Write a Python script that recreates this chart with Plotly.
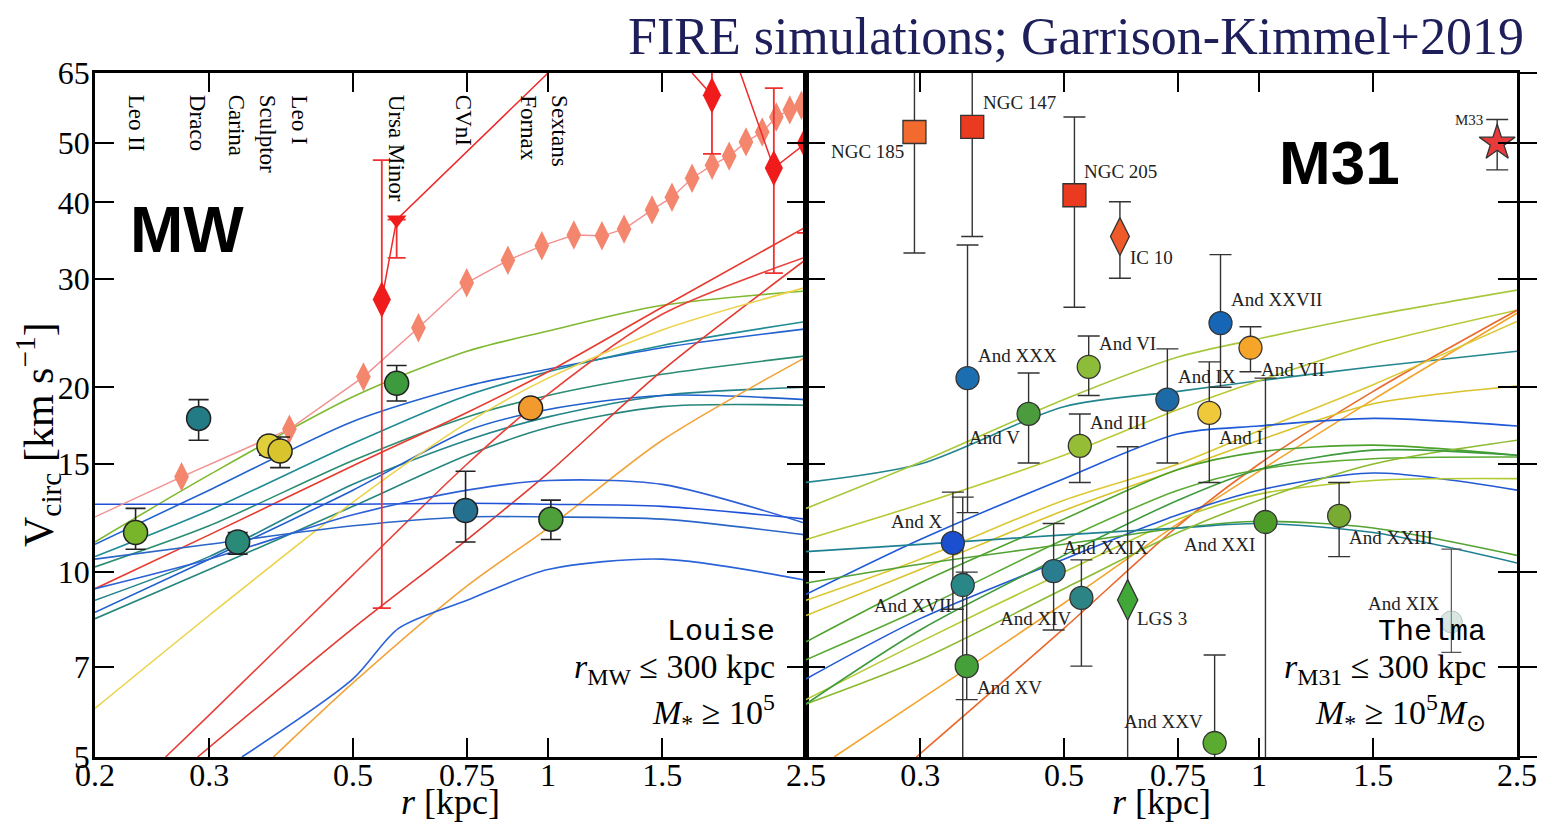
import numpy as np
import plotly.graph_objects as go

# ---------------- data ----------------
R_GRID = [0.2, 0.3, 0.5, 0.75, 1.0, 1.5, 2.5]
X_TICKS = [0.2, 0.3, 0.5, 0.75, 1.0, 1.5, 2.5]
X_TICKTEXT = ["0.2", "0.3", "0.5", "0.75", "1", "1.5", "2.5"]
Y_TICKS = [5, 7, 10, 15, 20, 30, 40, 50, 65]
Y_TICKTEXT = ["5", "7", "10", "15", "20", "30", "40", "50", "65"]

# Milky-Way-like host ("Louise") simulated satellite curves
MW_SIM_COLORS = ["#7fb930", "#2262cf", "#1e8a94", "#2a8c72", "#23848a", "#1e5fcc", "#26867c",
                 "#e83a2e", "#e8403a", "#e23a30", "#ecd24a", "#f2a43a", "#2a62d8", "#2050d8",
                 "#2d5fd6", "#2a66c8"]
MW_SIM_R = [R_GRID, R_GRID, R_GRID, R_GRID, R_GRID, R_GRID, R_GRID, R_GRID,
            [0.257, 0.3, 0.5, 0.75, 1.0, 1.5, 2.5],
            [0.288, 0.5, 0.75, 1.0, 1.5, 2.5],
            R_GRID,
            [0.377, 0.5, 0.75, 1.0, 1.5, 2.5],
            [0.337, 0.5, 0.588, 0.75, 1.0, 1.5, 2.5],
            R_GRID, R_GRID, R_GRID]
MW_SIM_V = [[11.2, 14.4, 19.3, 22.9, 24.7, 27.2, 28.7],
            [11.1, 13.6, 17.6, 20.1, 21.4, 23.2, 24.9],
            [10.6, 12.6, 16.2, 19.4, 21.2, 23.4, 25.6],
            [10.2, 11.9, 15.2, 17.9, 19.4, 21.0, 22.5],
            [9.0, 10.6, 13.9, 16.4, 17.9, 19.4, 20.0],
            [8.6, 10.5, 13.6, 17.0, 18.4, 19.4, 19.1],
            [8.4, 10.1, 12.8, 15.5, 17.2, 18.6, 18.7],
            [9.4, 11.5, 14.9, 18.2, 21.2, 27.0, 36.5],
            [5.0, 5.85, 9.9, 15.0, 19.5, 26.3, 32.6],
            [5.0, 8.1, 11.3, 14.5, 21.3, 32.3],
            [6.0, 8.5, 13.0, 17.5, 20.7, 24.8, 29.1],
            [5.0, 6.6, 9.5, 11.8, 16.4, 22.4],
            [5.0, 6.7, 8.1, 9.0, 10.1, 10.5, 9.7],
            [12.9, 12.9, 12.9, 12.95, 12.9, 12.8, 12.2],
            [9.4, 10.5, 12.4, 13.6, 14.1, 13.9, 12.0],
            [10.5, 11.1, 11.9, 12.3, 12.3, 12.2, 11.5]]

# M31-like host ("Thelma") simulated satellite curves
M31_SIM_COLORS = ["#23868f", "#a8c83c", "#b9c935", "#f3a42c", "#e96a2c", "#dcc834", "#d9c22a",
                  "#1e5ad8", "#4ca22c", "#5aaa34", "#2258d2", "#b3ca32", "#52a232", "#1f8092",
                  "#8cba30", "#3d9a3d"]
M31_SIM_R = [R_GRID, R_GRID, R_GRID,
             [0.221, 0.3, 0.5, 0.75, 1.0, 1.5, 2.5],
             [0.296, 0.5, 0.75, 1.0, 1.5, 2.5],
             R_GRID, R_GRID, R_GRID, R_GRID, R_GRID, R_GRID, R_GRID, R_GRID, R_GRID, R_GRID, R_GRID]
M31_SIM_V = [[14.0, 15.0, 18.6, 19.7, 20.5, 21.6, 22.9],
             [12.7, 15.1, 19.1, 22.4, 24.0, 26.2, 28.8],
             [11.3, 12.9, 15.5, 18.4, 20.5, 23.5, 26.7],
             [5.0, 6.2, 8.9, 12.0, 14.6, 19.1, 26.4],
             [5.0, 8.1, 11.9, 15.0, 19.7, 26.7],
             [9.0, 10.5, 13.1, 15.0, 17.0, 20.2, 25.6],
             [8.5, 10.1, 12.6, 14.7, 16.4, 18.8, 20.1],
             [9.2, 11.3, 14.2, 16.8, 17.3, 17.8, 17.3],
             [7.7, 9.6, 12.2, 14.7, 15.7, 16.1, 15.5],
             [7.2, 8.7, 11.3, 13.6, 14.7, 15.3, 15.4],
             [6.7, 8.4, 10.5, 12.4, 13.6, 14.5, 13.6],
             [6.2, 7.7, 10.0, 12.2, 13.4, 14.1, 14.2],
             [9.6, 10.3, 11.1, 11.8, 12.1, 11.8, 10.65],
             [10.8, 11.1, 11.5, 11.8, 12.0, 11.6, 10.35],
             [6.1, 7.2, 9.4, 11.6, 13.1, 15.0, 16.4],
             [6.1, 8.05, 10.65, 13.1, 14.7, 15.8, 15.5]]

# MW observed dwarfs
MW_NAMES = ["Leo II", "Draco", "Carina", "Sculptor", "Leo I", "Ursa Minor", "CVnI", "Fornax", "Sextans"]
MW_R = [0.231, 0.289, 0.332, 0.371, 0.386, 0.584, 0.746, 0.940, 1.010]
MW_V = [11.6, 17.8, 11.2, 16.05, 15.75, 20.3, 12.6, 18.5, 12.2]
MW_VLO = [10.9, 16.4, 10.7, 15.5, 14.8, 19.0, 11.2, 18.2, 11.3]
MW_VHI = [12.7, 19.1, 11.6, 16.5, 16.6, 21.7, 14.6, 18.8, 13.1]
MW_COLORS = ["#79b52a", "#237c85", "#2a8a78", "#e0cf3a", "#d8c52e", "#3d9a3d", "#24708e", "#f29a2e", "#4ea03a"]
MW_LABEL_R = [0.232, 0.2885, 0.331, 0.370, 0.413, 0.584, 0.741, 0.934, 1.043]

# red points (MW panel)
RED_R = [0.554, 0.584, 1.79, 2.23, 2.5]
RED_V = [27.8, 37.5, 59.8, 45.5, 50.0]
RED_VLO = [8.74, 32.5, 48.0, 30.7, 35.7]
RED_VHI = [46.9, 37.5, 75.0, 61.4, 50.0]
RED_SYMBOLS = ["diamond-tall", "triangle-down", "diamond-tall", "diamond-tall", "diamond-tall"]
RED_SIZES = [26, 17, 26, 26, 26]
RED_LINE_R = [0.554, 0.584, 1.0, None, 1.668, 1.79, None, 1.98, 2.23, 2.5]
RED_LINE_V = [27.8, 37.5, 65.0, None, 65.0, 59.8, None, 65.0, 45.5, 50.0]

# pink diamond profile
PINK_R = [0.272, 0.399, 0.519, 0.631, 0.749, 0.867, 0.978, 1.096, 1.211, 1.310,
          1.447, 1.553, 1.668, 1.791, 1.903, 2.02, 2.14, 2.25, 2.36, 2.46]
PINK_V = [14.3, 17.1, 20.8, 25.0, 29.6, 32.2, 34.0, 35.4, 35.3, 36.2,
          38.9, 40.8, 43.8, 46.0, 47.6, 50.2, 52.1, 55.1, 56.6, 57.6]
PINK_LEFT_R = 0.2
PINK_LEFT_V = 12.3

# M31 observed dwarfs (circles)
M31_NAMES = ["And XXX", "And V", "And VI", "And III", "And IX", "And XXVII", "And I", "And VII",
             "And XXI", "And XXIII", "And X", "And XVII", "And XV", "And XXIX", "And XIV", "And XXV"]
M31_R = [0.355, 0.441, 0.546, 0.529, 0.722, 0.872, 0.838, 0.970, 1.023, 1.329, 0.337, 0.349,
         0.354, 0.482, 0.532, 0.854]
M31_V = [20.7, 18.1, 21.6, 16.06, 19.1, 25.45, 18.17, 23.2, 12.07, 12.35, 11.16, 9.53,
         7.03, 10.04, 9.08, 5.27]
M31_VLO = [12.5, 15.06, 19.4, 14.0, 15.06, 20.0, 14.0, 21.2, 4.0, 10.6, 8.7, 4.0, 6.2, 8.05, 7.03, 4.0]
M31_VHI = [34.1, 21.1, 24.25, 18.1, 23.1, 32.9, 22.0, 25.1, 20.7, 14.0, 13.5, 13.25, 10.0, 12.0, 10.47, 7.33]
M31_COLORS = ["#1b6fb0", "#4c9b3c", "#8dbb3a", "#95bd35", "#1c6aa6", "#1666b5", "#f0c93a", "#f6a52b",
              "#4d9c2a", "#79aa31", "#1b4fd0", "#2a8787", "#45a03a", "#2a7d8e", "#2c8484", "#5aab30"]

# faint And XIX
XIX_R = [1.98]
XIX_V = [8.3]
XIX_VLO = [7.4]
XIX_VHI = [10.9]

# M31 other systems
OTH_NAMES = ["NGC 185", "NGC 147", "NGC 205", "IC 10", "LGS 3", "M33"]
OTH_R = [0.294, 0.361, 0.519, 0.610, 0.627, 2.33]
OTH_V = [52.1, 53.1, 41.1, 35.2, 9.01, 50.0]
OTH_VLO = [33.1, 35.2, 27.0, 30.1, 4.0, 45.2]
OTH_VHI = [80.0, 80.0, 55.1, 40.1, 16.0, 54.6]
OTH_SYMBOLS = ["square", "square", "square", "diamond-tall", "diamond-tall", "star"]
OTH_SIZES = [23, 23, 23, 27, 29, 27]
OTH_COLORS = ["#f26a2e", "#ea3a20", "#ea3a20", "#f05a28", "#3fa836", "#e83a3a"]

# M31 labels
M31_LABEL_TEXT = ["NGC 185", "NGC 147", "NGC 205", "IC 10", "And XXX", "And VI", "And XXVII", "And IX",
                  "And VII", "And III", "And V", "And I", "And X", "And XXIX", "And XXI", "And XXIII",
                  "And XVII", "And XIV", "LGS 3", "And XIX", "And XV", "And XXV"]
M31_LABEL_R = [0.249, 0.427, 0.612, 0.683, 0.424, 0.627, 1.064, 0.832, 1.129, 0.605, 0.390, 0.939,
               0.296, 0.580, 0.869, 1.598, 0.292, 0.452, 0.708, 1.672, 0.412, 0.713]
M31_LABEL_V = [48.4, 58.1, 44.9, 32.5, 22.5, 23.6, 27.8, 20.8, 21.35, 17.5, 16.6, 16.6,
               12.1, 10.95, 11.1, 11.4, 8.81, 8.39, 8.39, 8.88, 6.50, 5.72]

SERIF = "Liberation Serif, Times New Roman, serif"

# ---------------- figure geometry (page body has an 8px margin) ----------------
OFF = 8
FIG_W = 1564 - 2 * OFF
FIG_H = 834 - 2 * OFF


def px(X):
    return (X - OFF) / FIG_W


def py(Y):
    return 1 - (Y - OFF) / FIG_H


fig = go.Figure()
XD1 = [px(95), px(806)]
XD2 = [px(806), px(1517)]
YD = [py(757), py(73)]


def err(v, lo, hi):
    v = np.array(v, float)
    return (np.array(hi, float) - v).tolist(), (v - np.array(lo, float)).tolist()


def add_sim(rs, vs, cols, xa, ya):
    for r, v, c in zip(rs, vs, cols):
        fig.add_trace(go.Scatter(x=r, y=v, mode="lines", line=dict(color=c, width=1.6, shape="spline", smoothing=0.8),
                                 xaxis=xa, yaxis=ya, hoverinfo="skip", showlegend=False))


add_sim(MW_SIM_R, MW_SIM_V, MW_SIM_COLORS, "x", "y")
add_sim(M31_SIM_R, M31_SIM_V, M31_SIM_COLORS, "x2", "y2")

# pink profile
fig.add_trace(go.Scatter(x=[PINK_LEFT_R] + PINK_R, y=[PINK_LEFT_V] + PINK_V, mode="lines",
                         line=dict(color="#f29090", width=1.4), xaxis="x", yaxis="y",
                         hoverinfo="skip", showlegend=False))
fig.add_trace(go.Scatter(x=PINK_R, y=PINK_V, mode="markers",
                         marker=dict(symbol="diamond-tall", size=21, color="#f4866e", opacity=1, line=dict(width=0)),
                         xaxis="x", yaxis="y", hoverinfo="skip", showlegend=False))

# red profile
fig.add_trace(go.Scatter(x=RED_LINE_R, y=RED_LINE_V, mode="lines", line=dict(color="#ee2a2a", width=1.5),
                         xaxis="x", yaxis="y", hoverinfo="skip", showlegend=False, connectgaps=False))
ep, em = err(RED_V, RED_VLO, RED_VHI)
fig.add_trace(go.Scatter(x=RED_R, y=RED_V, mode="markers",
                         marker=dict(symbol=RED_SYMBOLS, size=RED_SIZES, color="#f01c1c", opacity=1, line=dict(width=0)),
                         error_y=dict(type="data", symmetric=False, array=ep, arrayminus=em, color="#f03030",
                                      thickness=1.8, width=9),
                         xaxis="x", yaxis="y", hoverinfo="skip", showlegend=False))

# MW dwarfs
ep, em = err(MW_V, MW_VLO, MW_VHI)
fig.add_trace(go.Scatter(x=MW_R, y=MW_V, mode="markers", text=MW_NAMES,
                         marker=dict(size=24, color=MW_COLORS, opacity=1, line=dict(color="#222222", width=1.5)),
                         error_y=dict(type="data", symmetric=False, array=ep, arrayminus=em, color="#222222",
                                      thickness=1.6, width=10),
                         xaxis="x", yaxis="y", showlegend=False))

# M31 dwarfs
ep, em = err(XIX_V, XIX_VLO, XIX_VHI)
fig.add_trace(go.Scatter(x=XIX_R, y=XIX_V, mode="markers",
                         marker=dict(size=22, color="rgba(170,200,190,0.45)", line=dict(color="rgba(120,140,130,0.4)", width=1)),
                         error_y=dict(type="data", symmetric=False, array=ep, arrayminus=em, color="#555555",
                                      thickness=1.2, width=10),
                         xaxis="x2", yaxis="y2", showlegend=False))
ep, em = err(OTH_V, OTH_VLO, OTH_VHI)
fig.add_trace(go.Scatter(x=OTH_R, y=OTH_V, mode="markers", text=OTH_NAMES,
                         marker=dict(symbol=OTH_SYMBOLS, size=OTH_SIZES, color=OTH_COLORS, opacity=1,
                                     line=dict(color="#333333", width=1.3)),
                         error_y=dict(type="data", symmetric=False, array=ep, arrayminus=em, color="#333333",
                                      thickness=1.4, width=11),
                         xaxis="x2", yaxis="y2", showlegend=False))
ep, em = err(M31_V, M31_VLO, M31_VHI)
fig.add_trace(go.Scatter(x=M31_R, y=M31_V, mode="markers", text=M31_NAMES,
                         marker=dict(size=23, color=M31_COLORS, opacity=1, line=dict(color="#333333", width=1.3)),
                         error_y=dict(type="data", symmetric=False, array=ep, arrayminus=em, color="#333333",
                                      thickness=1.4, width=11),
                         xaxis="x2", yaxis="y2", showlegend=False))
# dummy for outer tick axis
fig.add_trace(go.Scatter(x=[1.0], y=[10.0], mode="markers", marker=dict(opacity=0), xaxis="x2", yaxis="y3",
                         hoverinfo="skip", showlegend=False))

ann = []
for name, r in zip(MW_NAMES, MW_LABEL_R):
    ann.append(dict(text=name, x=np.log10(r), xref="x", y=py(93), yref="paper", textangle=90,
                    xanchor="center", yanchor="top", showarrow=False, font=dict(family=SERIF, size=23, color="black")))
for t, r, v in zip(M31_LABEL_TEXT, M31_LABEL_R, M31_LABEL_V):
    ann.append(dict(text=t, x=np.log10(r), xref="x2", y=np.log10(v), yref="y2", showarrow=False,
                    xanchor="center", yanchor="middle", font=dict(family=SERIF, size=19, color="#222222")))
ann.append(dict(text="M33", x=np.log10(2.11), xref="x2", y=np.log10(54.5), yref="y2", showarrow=False,
                xanchor="center", yanchor="middle", font=dict(family=SERIF, size=15, color="#222222")))


def pann(text, X, Y, size, family=SERIF, xanchor="center", angle=0, color="black"):
    return dict(text=text, x=px(X), y=py(Y), xref="paper", yref="paper", xanchor=xanchor, yanchor="middle",
                textangle=angle, showarrow=False, font=dict(family=family, size=size, color=color))


MONO = "Liberation Mono, Courier New, monospace"
SANS = "Liberation Sans, Arial"
ann += [
    pann("FIRE simulations; Garrison-Kimmel+2019", 1526, 36, 52, color="#1e1e5a", xanchor="right"),
    pann("<b>MW</b>", 187, 230, 64, family=SANS),
    pann("<b>M31</b>", 1339, 163, 62, family=SANS),
    pann("Louise", 777, 632, 30, family=MONO, xanchor="right"),
    pann("<i>r</i><sub>MW</sub> ≤ 300 kpc", 777, 669, 34, xanchor="right"),
    pann("<i>M</i><sub>*</sub> ≥ 10<sup>5</sup>", 777, 712, 34, xanchor="right"),
    pann("Thelma", 1488, 632, 30, family=MONO, xanchor="right"),
    pann("<i>r</i><sub>M31</sub> ≤ 300 kpc", 1488, 669, 34, xanchor="right"),
    pann("<i>M</i><sub>*</sub> ≥ 10<sup>5</sup><i>M</i><sub>⊙</sub>", 1488, 712, 34, xanchor="right"),
    pann("V<sub>circ</sub> [km s<sup>−1</sup>]", 38, 435, 42, angle=-90),
    pann("<i>r</i> [kpc]", 450, 802, 36),
    pann("<i>r</i> [kpc]", 1161, 802, 36),
]

xcommon = dict(type="log", range=[np.log10(0.2), np.log10(2.5)], ticks="inside", ticklen=19, tickwidth=2,
               tickcolor="black", showline=True, linewidth=2.5, linecolor="black", mirror="ticks",
               showgrid=False, zeroline=False, automargin=False, ticklabelstandoff=-12,
               tickfont=dict(family=SERIF, size=32, color="black"))
ycommon = dict(type="log", range=[np.log10(5), np.log10(65)], ticks="inside", ticklen=19, tickwidth=2,
               tickcolor="black", showline=True, linewidth=2.5, linecolor="black", mirror="ticks",
               showgrid=False, zeroline=False, tickvals=Y_TICKS, ticktext=Y_TICKTEXT, domain=YD,
               automargin=False, ticklabelstandoff=-4, tickfont=dict(family=SERIF, size=32, color="black"))

fig.update_layout(
    template="none",
    width=FIG_W, height=FIG_H, autosize=False,
    margin=dict(l=0, r=0, t=0, b=0, pad=0),
    paper_bgcolor="white", plot_bgcolor="white",
    xaxis=dict(**xcommon, domain=XD1, anchor="y", tickvals=X_TICKS, ticktext=X_TICKTEXT),
    xaxis2=dict(**xcommon, domain=XD2, anchor="y2", tickvals=X_TICKS[1:], ticktext=X_TICKTEXT[1:]),
    yaxis=dict(**ycommon, anchor="x"),
    yaxis2=dict(**ycommon, anchor="x2", showticklabels=False),
    yaxis3=dict(type="log", range=[np.log10(5), np.log10(65)], overlaying="y2", anchor="free",
                position=XD2[1], side="right", ticks="outside", ticklen=19, tickwidth=2, tickcolor="black",
                showline=False, showgrid=False, zeroline=False, showticklabels=False, tickvals=Y_TICKS,
                automargin=False),
    annotations=ann,
    showlegend=False,
)

fig.write_html("out.html")
